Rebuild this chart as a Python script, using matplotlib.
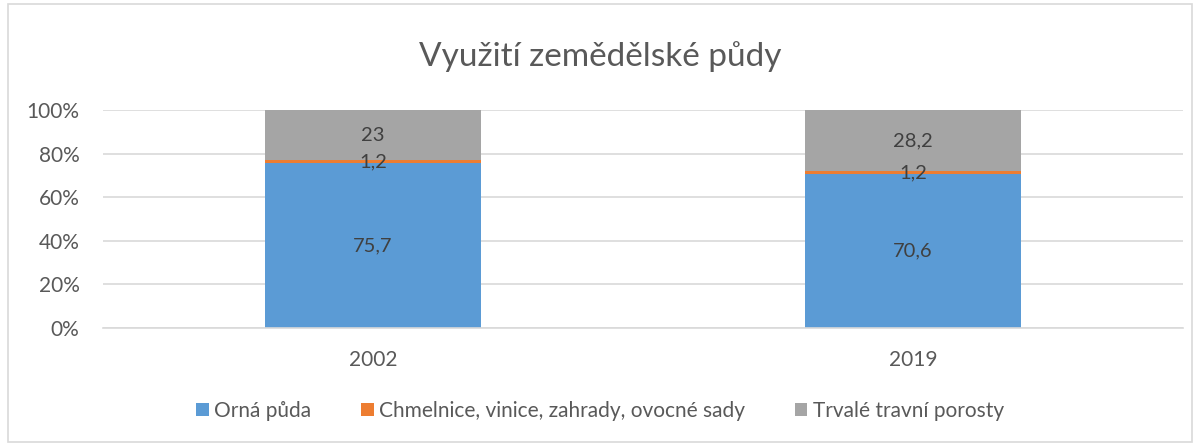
import matplotlib.pyplot as plt
import numpy as np
from matplotlib.patches import Rectangle

plt.rcParams['font.family'] = ['Lato', 'DejaVu Sans']

years = ['2002', '2019']
orna = [75.7, 70.6]
chmelnice = [1.2, 1.2]
trvale = [23, 28.2]
labels = ['Orná půda', 'Chmelnice, vinice, zahrady, ovocné sady', 'Trvalé travní porosty']
colors = ['#5B9BD5', '#ED7D31', '#A5A5A5']

series = [orna, chmelnice, trvale]
totals = np.sum(series, axis=0)

fig = plt.figure(figsize=(12, 4.44), dpi=100)
ax = fig.add_axes([103/1200, 116/444, 1080/1200, 218/444])

x = np.arange(len(years))
bottom = np.zeros(len(years))
for vals, lab, col in zip(series, labels, colors):
    pct = np.array(vals) / totals * 100
    ax.bar(x, pct, 0.4, bottom=bottom, color=col, label=lab, zorder=2)
    for xi, b, p, v in zip(x, bottom, pct, vals):
        txt = ('%g' % v).replace('.', ',')
        ax.text(xi, b + p / 2, txt, ha='center', va='center', fontsize=14.5, color='#404040', zorder=3)
    bottom += pct

ax.set_xlim(-0.5, 1.5)
ax.set_ylim(0, 100)
ax.set_xticks(x)
ax.set_xticklabels(years)
ax.set_yticks(np.arange(0, 101, 20))
ax.set_yticklabels(['%d%%' % v for v in range(0, 101, 20)])
ax.tick_params(length=0, labelsize=15, colors='#595959')
ax.tick_params(axis='y', pad=17)
ax.tick_params(axis='x', pad=16)
ax.grid(axis='y', color='#D9D9D9', linewidth=1.2, zorder=0)
for s in ['top', 'right', 'left']:
    ax.spines[s].set_visible(False)
ax.spines['bottom'].set_color('#D9D9D9')
ax.spines['bottom'].set_linewidth(1.2)

fig.text(0.5, 1 - 57/444, 'Využití zemědělské půdy', ha='center', va='center', fontsize=24, color='#595959')

fig.legend(loc='center', bbox_to_anchor=(0.5, 1 - 411/444), ncol=3, frameon=False,
           fontsize=15, handlelength=0.6, handleheight=0.6, handletextpad=0.25, columnspacing=2.4,
           labelcolor='#595959')

fig.patches.append(Rectangle((8/1200, 2/444), 1184/1200, 438/444, transform=fig.transFigure,
                             fill=False, edgecolor='#D9D9D9', linewidth=1.2))

fig.savefig('out.png', dpi=100)
